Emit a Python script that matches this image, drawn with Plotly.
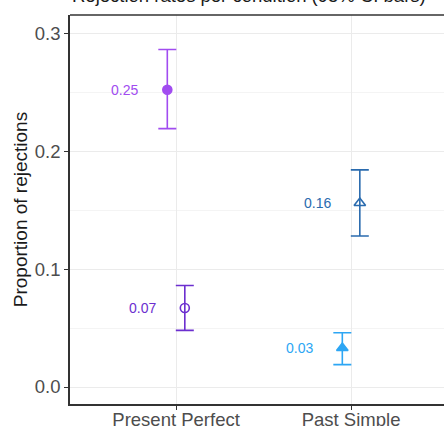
import plotly.graph_objects as go

# ---- data ----
categories = ["Present Perfect", "Past Simple"]
group_names = ["PP filled", "PP open", "PS open", "PS filled"]
group_category = [0, 0, 1, 1]
group_dodge = [-0.05, 0.05, 0.05, -0.05]
proportions = [0.252, 0.067, 0.156, 0.033]
ci_low = [0.219, 0.048, 0.128, 0.019]
ci_high = [0.286, 0.086, 0.184, 0.046]
value_labels = ["0.25", "0.07", "0.16", "0.03"]
y_ticks = [0.0, 0.1, 0.2, 0.3]
y_tick_labels = ["0.0", "0.1", "0.2", "0.3"]

# ---- styles ----
colors = ["#A14CF0", "#6C2FCF", "#2A6BAE", "#2DA6F4"]
symbols = ["circle", "circle-open", "triangle-up-open", "triangle-up"]
sizes = [9, 9, 10, 10]

FONT = "Liberation Sans, Arial, Helvetica, sans-serif"

fig = go.Figure()
for i in range(len(group_names)):
    x = group_category[i] + group_dodge[i]
    fig.add_trace(go.Scatter(
        x=[x], y=[proportions[i]], mode="markers", name=group_names[i],
        marker=dict(symbol=symbols[i], size=sizes[i], color=colors[i],
                    line=dict(width=1.6, color=colors[i])),
        error_y=dict(type="data", symmetric=False,
                     array=[ci_high[i] - proportions[i]],
                     arrayminus=[proportions[i] - ci_low[i]],
                     color=colors[i], thickness=1.6, width=9),
        showlegend=False,
    ))
    fig.add_annotation(x=x, y=proportions[i], text=value_labels[i],
                       showarrow=False, xanchor="right", yanchor="middle",
                       xshift=-27, font=dict(size=14, color=colors[i], family=FONT))

# title (mostly cut off at top, as in the reference)
fig.add_annotation(xref="paper", yref="paper", x=0, y=1, xanchor="left", yanchor="bottom",
                   yshift=7, xshift=0, showarrow=False,
                   text="Rejection rates per condition (95% CI bars)",
                   font=dict(size=18.5, color="#1a1a1a", family=FONT))

# top panel border
fig.add_shape(type="line", xref="paper", yref="paper", x0=0, x1=1, y0=1, y1=1,
              line=dict(color="#333333", width=1.6))

fig.update_layout(
    width=444, height=426,
    margin=dict(l=70, r=0, t=15, b=22, autoexpand=False),
    plot_bgcolor="white", paper_bgcolor="white",
    font=dict(family=FONT, color="#4D4D4D"),
    xaxis=dict(range=[-0.606, 1.531], tickvals=[0, 1], ticktext=categories,
               automargin=False, ticklabelstandoff=-6,
               showgrid=True, gridcolor="#EBEBEB", gridwidth=1.2, zeroline=False,
               showline=True, linecolor="#333333", linewidth=1.6,
               ticks="outside", ticklen=4, tickwidth=1.4, tickcolor="#333333",
               tickfont=dict(size=18.5, color="#4D4D4D")),
    yaxis=dict(range=[-0.0144, 0.3153], tickvals=y_ticks, ticktext=y_tick_labels,
               automargin=False,
               showgrid=True, gridcolor="#EBEBEB", gridwidth=1.2, zeroline=False,
               showline=True, linecolor="#333333", linewidth=1.6,
               ticks="outside", ticklen=4, tickwidth=1.4, tickcolor="#333333",
               tickfont=dict(size=18.5, color="#4D4D4D"),
               minor=dict(tickvals=[0.05, 0.15, 0.25], showgrid=True,
                          gridcolor="#F4F4F4", gridwidth=1, ticks=""),
               title=dict(text="Proportion of rejections", standoff=2,
                          font=dict(size=19, color="#1a1a1a"))),
)

fig.write_html("out.html", config={"displayModeBar": False},
               post_script="document.body.style.margin='0';document.body.style.overflow='hidden';")
